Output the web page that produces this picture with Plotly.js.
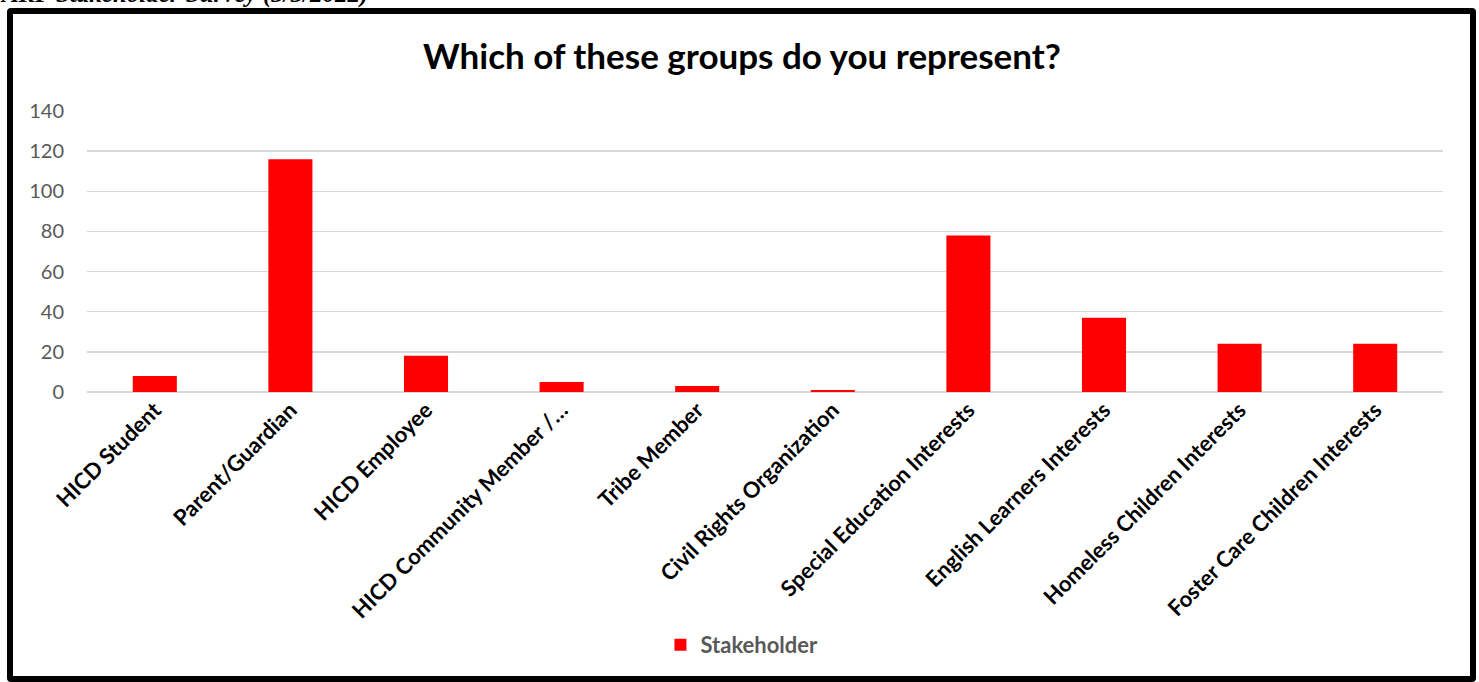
<!DOCTYPE html>
<html>
<head>
<meta charset="utf-8">
<script src="https://cdn.plot.ly/plotly-3.0.1.min.js"></script>
<style>
  html, body { margin: 0; padding: 0; background: #fff; overflow: hidden; }
  #wrap { position: relative; width: 1479px; height: 682px; }
  #chart { position: absolute; left: 0; top: 0; width: 1479px; height: 682px; }
  #frame { position: absolute; left: 7px; top: 8px; width: 1457px; height: 662px; border: 6px solid #000; border-radius: 4px; pointer-events: none; }
  #caption { position: absolute; left: 2px; top: -19px; font-family: "Liberation Serif", serif; font-style: italic; font-weight: bold; font-size: 25px; line-height: 25px; color: #000; white-space: nowrap; z-index: 5; }
</style>
</head>
<body>
<div id="wrap">
  <div id="chart"></div>
  <div id="frame"></div>
  <div id="caption">ARP Stakeholder Survey (3/3/2022)</div>
</div>
<script>
const categories = [
  "HICD Student",
  "Parent/Guardian",
  "HICD Employee",
  "HICD Community Member /…",
  "Tribe Member",
  "Civil Rights Organization",
  "Special Education Interests",
  "English Learners Interests",
  "Homeless Children Interests",
  "Foster Care Children Interests"
];
const stakeholder = [8, 116, 18, 5, 3, 1, 78, 37, 24, 24];
const yTicks = [0, 20, 40, 60, 80, 100, 120, 140];

const trace = {
  type: "bar",
  name: "Stakeholder",
  x: categories,
  y: stakeholder,
  marker: { color: "#ff0000" },
  hoverinfo: "x+y"
};

const layout = {
  width: 1479,
  height: 682,
  paper_bgcolor: "#ffffff",
  plot_bgcolor: "#ffffff",
  margin: { l: 87, r: 36, t: 111, b: 290 },
  bargap: 0.675,
  title: {
    text: "<b>Which of these groups do you represent?</b>",
    font: { family: "Lato, 'Open Sans', sans-serif", size: 35, color: "#000" },
    x: 0.483, xref: "paper", xanchor: "center",
    y: 1 - 57 / 682, yref: "container", yanchor: "middle"
  },
  xaxis: {
    type: "category",
    tickangle: -45,
    tickfont: { family: "Lato, 'Open Sans', sans-serif", size: 22, color: "#000", weight: "bold" },
    showgrid: false,
    showline: false,
    zeroline: false,
    ticks: ""
  },
  yaxis: {
    range: [0, 140],
    tickvals: yTicks,
    ticktext: yTicks.map(String),
    tickfont: { family: "Lato, 'Open Sans', sans-serif", size: 20, color: "#595959" },
    showgrid: true,
    gridcolor: "#d9d9d9",
    gridwidth: 1.5,
    zeroline: true,
    zerolinecolor: "#d9d9d9",
    zerolinewidth: 1.5,
    showline: false,
    ticks: "",
    ticklabelstandoff: 22
  },
  showlegend: true,
  legend: {
    orientation: "h",
    x: 0.483, xanchor: "center",
    y: (682 - 645) / 682, yanchor: "middle", yref: "container",
    font: { family: "Lato, 'Open Sans', sans-serif", size: 22, color: "#595959", weight: "bold" },
    itemwidth: 30,
    bgcolor: "rgba(0,0,0,0)"
  }
};

Plotly.newPlot("chart", [trace], layout, { displayModeBar: false, staticPlot: true });
</script>
</body>
</html>
